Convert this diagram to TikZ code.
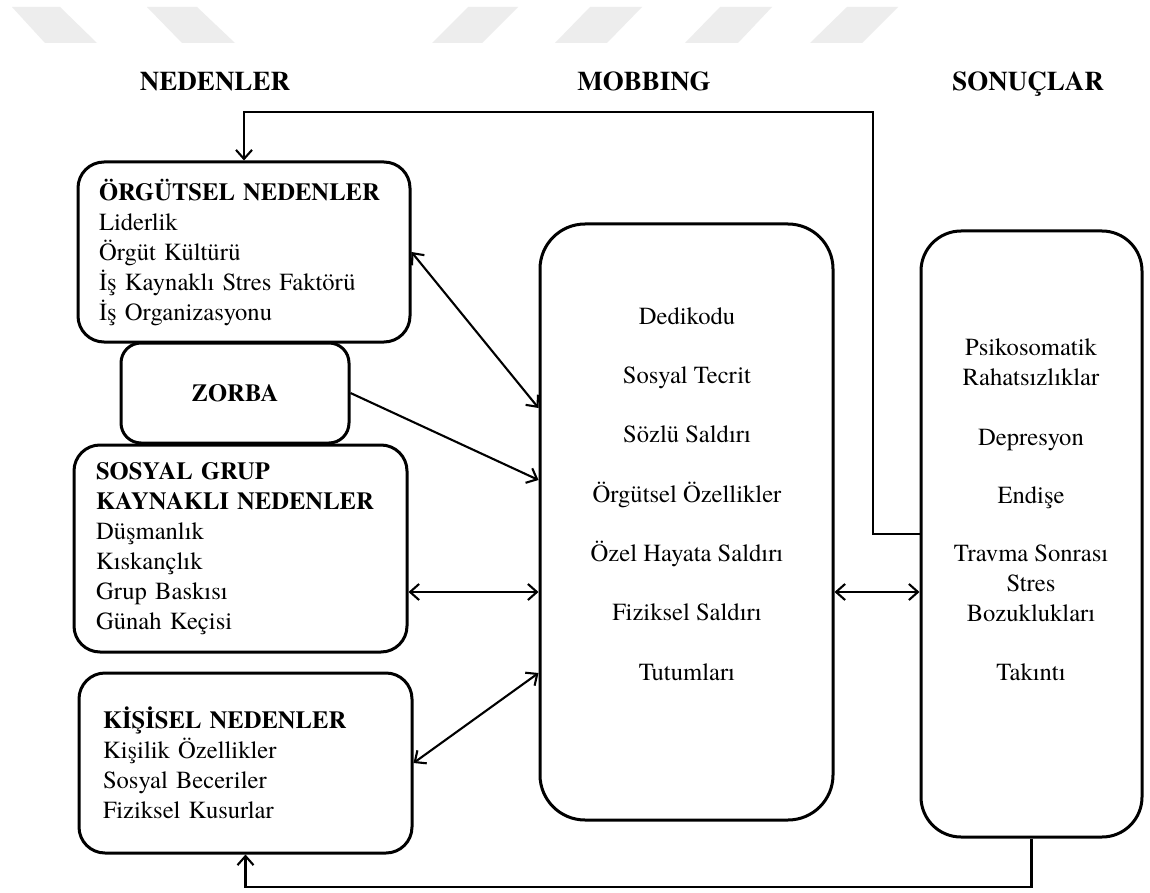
\documentclass[tikz,border=0pt]{standalone}
\usepackage{fontspec}
\setmainfont{texgyretermes}[Extension=.otf, UprightFont=*-regular, BoldFont=*-bold, ItalicFont=*-italic, BoldItalicFont=*-bolditalic]
\usetikzlibrary{arrows.meta}
\begin{document}
\begin{tikzpicture}[x=1pt,y=-1pt,
  box/.style={draw, line width=3pt, rounded corners=26pt, inner sep=0pt},
  conn/.style={line width=2.1pt},
  tip/.tip={Straight Barb[length=9pt,width=16pt,line width=2.1pt]},
  arr/.style={conn,-tip},
  darr/.style={conn,tip-tip},
  body/.style={font=\fontsize{24.6}{30}\selectfont},
  head/.style={font=\fontsize{27}{32}\selectfont\bfseries, anchor=base},
  wm/.style={fill=black!7}]
\useasboundingbox (0,0) rectangle (1150,893);
\fill[white] (0,0) rectangle (1150,893);
% watermark band
\fill[wm] (12,7) -- (60,7) -- (97,43) -- (45,43) -- cycle;
\fill[wm] (147,7) -- (197,7) -- (235,43) -- (182,43) -- cycle;
\fill[wm] (468,7) -- (518,7) -- (482,43) -- (432,43) -- cycle;
\fill[wm] (590,7) -- (642,7) -- (607,43) -- (555,43) -- cycle;
\fill[wm] (720,7) -- (772,7) -- (738,43) -- (685,43) -- cycle;
\fill[wm] (847,7) -- (898,7) -- (862,43) -- (810,43) -- cycle;
% headers
\node[head] (h1) at (215,91) {NEDENLER};
\node[head] (h2) at (644,91) {MOBBING};
\node[head] (h3) at (1028,91) {SONUÇLAR};
% left boxes
\node[box, body, minimum width=332pt, minimum height=180pt, text width=290pt, align=left, inner xsep=21pt] (org) at (244,252)
  {\textbf{ÖRGÜTSEL NEDENLER}\\Liderlik\\Örgüt Kültürü\\İş Kaynaklı Stres Faktörü\\İş Organizasyonu};
\node[box, body, rounded corners=20pt, minimum width=228pt, minimum height=100pt] (zor) at (235,393) {\textbf{ZORBA}};
\node[box, body, minimum width=333pt, minimum height=207pt, text width=289pt, align=left, inner xsep=22pt] (soc) at (240.5,548.5)
  {\textbf{SOSYAL GRUP}\\\textbf{KAYNAKLI NEDENLER}\\Düşmanlık\\Kıskançlık\\Grup Baskısı\\Günah Keçisi};
\node[box, body, minimum width=333pt, minimum height=180pt, text width=285pt, align=left, inner xsep=24pt] (kis) at (245.5,763)
  {\textbf{KİŞİSEL NEDENLER}\\Kişilik Özellikler\\Sosyal Beceriler\\Fiziksel Kusurlar};
% middle and right boxes
\node[box, rounded corners=45pt, minimum width=293pt, minimum height=596pt] (mob) at (686.5,522) {};
\node[body, align=center] (mobtxt) at (687,494)
  {Dedikodu\\[29.3pt]Sosyal Tecrit\\[29.3pt]Sözlü Saldırı\\[29.3pt]Örgütsel Özellikler\\[29.3pt]Özel Hayata Saldırı\\[29.3pt]Fiziksel Saldırı\\[29.3pt]Tutumları};
\node[box, rounded corners=40pt, minimum width=221pt, minimum height=606pt] (son) at (1031.5,534) {};
\node[body, align=center] (sontxt) at (1031,510)
  {Psikosomatik\\Rahatsızlıklar\\[29.6pt]Depresyon\\[28pt]Endişe\\[28pt]Travma Sonrası\\Stres\\Bozuklukları\\[29.6pt]Takıntı};
% feedback lines
\coordinate (tr) at (873,112);
\coordinate (bl) at (0,887);
\draw[arr] (son.west) -- (son.west -| tr) -- (tr) -| (org.north);
\draw[arr] (son.south) |- (kis.south |- bl) -- (kis.south);
% connectors
\draw[darr] (org.east) -- ([yshift=114pt]mob.west);
\draw[arr] (zor.east) -- ([yshift=42pt]mob.west);
\draw[darr] ([yshift=-43.5pt]soc.east) -- ([yshift=-70pt]mob.west);
\draw[darr] (kis.east) -- ([yshift=-151pt]mob.west);
\draw[darr] ([yshift=-70pt]mob.east) -- ([yshift=-58pt]son.west);
\end{tikzpicture}
\end{document}
